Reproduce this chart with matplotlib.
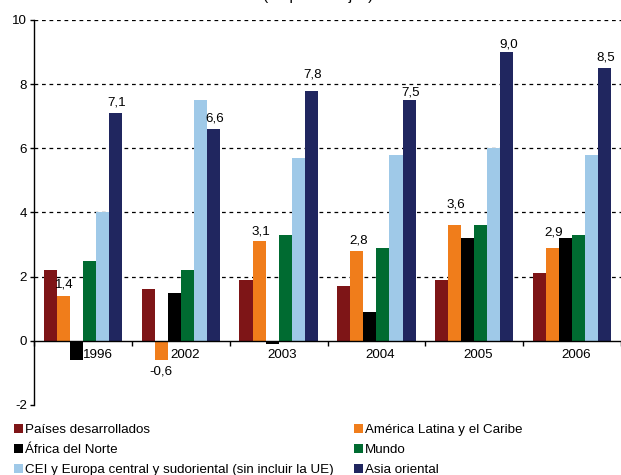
"""Grouped bar chart: growth by region, 1996 and 2002-2006."""

import matplotlib

matplotlib.use("Agg")
import matplotlib.pyplot as plt
import matplotlib.transforms as mtransforms
import numpy as np

plt.rcParams["font.family"] = ["Liberation Sans", "DejaVu Sans"]
plt.rcParams["axes.unicode_minus"] = False

YEARS = ["1996", "2002", "2003", "2004", "2005", "2006"]

SERIES_NAMES = [
    "Países desarrollados",
    "América Latina y el Caribe",
    "África del Norte",
    "Mundo",
    "CEI y Europa central y sudoriental (sin incluir la UE)",
    "Asia oriental",
]

desarrollados = [2.2, 1.6, 1.9, 1.7, 1.9, 2.1]
america_latina = [1.4, -0.6, 3.1, 2.8, 3.6, 2.9]
africa_norte = [-0.6, 1.5, -0.1, 0.9, 3.2, 3.2]
mundo = [2.5, 2.2, 3.3, 2.9, 3.6, 3.3]
cei_europa = [4.0, 7.5, 5.7, 5.8, 6.0, 5.8]
asia_oriental = [7.1, 6.6, 7.8, 7.5, 9.0, 8.5]

SERIES_VALUES = [
    desarrollados,
    america_latina,
    africa_norte,
    mundo,
    cei_europa,
    asia_oriental,
]

COLORS = ["#7e1517", "#f07d1b", "#000000", "#006b31", "#9fc9e8", "#20265f"]

# Series whose values are printed on the bars, with extra lift (points)
# for labels that were moved by hand in the original.
LABEL_LIFT = {
    1: [1, 0, 0, 0, 8, 4],
    5: [0, 0, 4, -2, -2, 0],
}

FONT_SIZE = 9.6
BAR_WIDTH = 0.1334


def fmt(value):
    return f"{value:.1f}".replace(".", ",")


fig = plt.figure(figsize=(6.21, 4.75), dpi=100)
ax = fig.add_axes([0.0548, 0.1474, 0.9452, 0.8105])

x = np.arange(len(YEARS))
n_series = len(SERIES_VALUES)
for j, (name, values, color) in enumerate(zip(SERIES_NAMES, SERIES_VALUES, COLORS)):
    offset = (j - (n_series - 1) / 2) * BAR_WIDTH
    bars = ax.bar(
        x + offset, values, width=BAR_WIDTH, color=color, label=name,
        linewidth=0, zorder=2,
    )
    if j in LABEL_LIFT:
        for bar, value, lift in zip(bars, values, LABEL_LIFT[j]):
            ax.annotate(
                fmt(value),
                (bar.get_x() + bar.get_width() / 2, value),
                xytext=(1, 3 + lift) if value >= 0 else (0, -4),
                textcoords="offset points",
                ha="center",
                va="bottom" if value >= 0 else "top",
                fontsize=FONT_SIZE,
                zorder=4,
            )

# y axis
ax.set_ylim(-2, 10)
ax.set_yticks(np.arange(-2, 11, 2))
ax.tick_params(axis="y", direction="out", length=3, width=1, labelsize=FONT_SIZE, pad=2)
for tick_value in ax.get_yticks():
    if tick_value > 0:
        ax.axhline(tick_value, color="black", linewidth=0.9, linestyle=(0, (3, 3)), zorder=1)

# x axis through zero: ticks at group boundaries, labels at group centres
ax.set_xlim(-0.5, len(YEARS) - 0.5)
ax.spines["bottom"].set_position(("data", 0))
ax.spines["bottom"].set_zorder(3)
ax.set_xticks(np.arange(-0.5, len(YEARS), 1.0))
ax.set_xticklabels([])
ax.tick_params(axis="x", which="major", direction="out", length=3.5, width=1)
ax.set_xticks(x, minor=True)
ax.set_xticklabels(YEARS, minor=True, fontsize=FONT_SIZE)
ax.tick_params(axis="x", which="minor", length=0, pad=6)

# nudge labels slightly right as in the original layout
for i, label in enumerate(ax.xaxis.get_minorticklabels()):
    dx = 15 if i == 0 else 4
    label.set_transform(
        label.get_transform() + mtransforms.ScaledTranslation(dx / 100, 0, fig.dpi_scale_trans)
    )

for side in ("top", "right"):
    ax.spines[side].set_visible(False)
ax.spines["left"].set_linewidth(1)
ax.spines["bottom"].set_linewidth(1)

# legend: two columns, reading across rows
handles, labels = ax.get_legend_handles_labels()
order = [0, 2, 4, 1, 3, 5]
fig.legend(
    [handles[i] for i in order],
    [labels[i] for i in order],
    loc="upper left",
    bbox_to_anchor=(0.0225, 0.107),
    ncol=2,
    frameon=False,
    fontsize=FONT_SIZE,
    handlelength=0.67,
    handleheight=0.67,
    handletextpad=0.15,
    columnspacing=1.5,
    labelspacing=0.56,
    borderpad=0,
    borderaxespad=0,
)

# top line of the caption, cut off by the image edge
fig.text(0.513, 1.0, "(en porcentajes)", ha="center", va="baseline", fontsize=11)

fig.savefig("out.png", dpi=100)
